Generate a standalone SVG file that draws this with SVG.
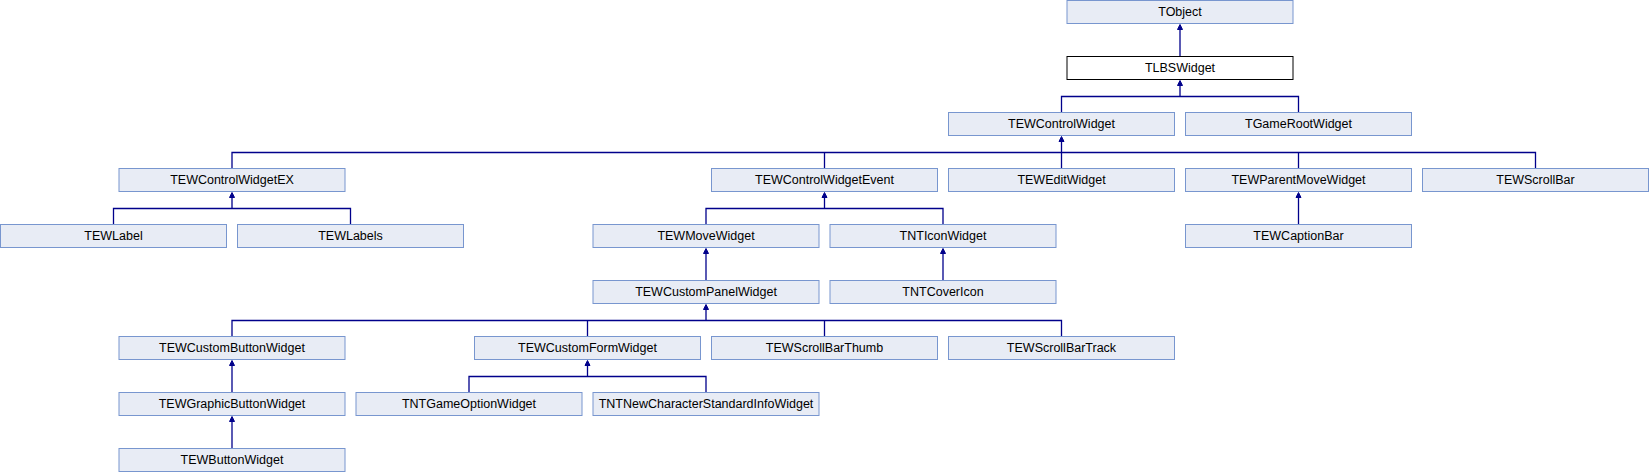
<svg xmlns="http://www.w3.org/2000/svg" width="1649" height="472" viewBox="0 0 1649 472">
<defs>
<style>
.n rect{fill:#E8ECF5;stroke:#7896CF;stroke-width:1}
.n text{font-family:"Liberation Sans",Arial,sans-serif;font-size:12.5px;fill:#000;text-anchor:middle}
.cur rect{fill:#FFFFFF;stroke:#000000}
.e path{fill:none;stroke:#00008B;stroke-width:1.3}
.e polygon{fill:#00008B;stroke:#00008B;stroke-width:1}
</style>
</defs>
<rect x="0" y="0" width="1649" height="472" fill="#FFFFFF"/>
<g id="connectors" class="e">
<path d="M1180,56.5V29"/><polygon points="1180,24.5 1177.5,29.5 1182.5,29.5"/>
<path d="M1061.5,112.5V96.5H1298.5V112.5M1180,96.5V85"/><polygon points="1180,80.5 1177.5,85.5 1182.5,85.5"/>
<path d="M232,168.5V152.5H1535.5V168.5M824.5,152.5V168.5M1061.5,168.5V141M1298.5,152.5V168.5"/><polygon points="1061.5,136.5 1059,141.5 1064,141.5"/>
<path d="M113.5,224.5V208.5H350.5V224.5M232,208.5V197"/><polygon points="232,192.5 229.5,197.5 234.5,197.5"/>
<path d="M706,224.5V208.5H943V224.5M824.5,208.5V197"/><polygon points="824.5,192.5 822,197.5 827,197.5"/>
<path d="M1298.5,224.5V197"/><polygon points="1298.5,192.5 1296,197.5 1301,197.5"/>
<path d="M706,280.5V253"/><polygon points="706,248.5 703.5,253.5 708.5,253.5"/>
<path d="M943,280.5V253"/><polygon points="943,248.5 940.5,253.5 945.5,253.5"/>
<path d="M232,336.5V320.5H1061.5V336.5M587.5,320.5V336.5M824.5,320.5V336.5M706,320.5V309"/><polygon points="706,304.5 703.5,309.5 708.5,309.5"/>
<path d="M232,392.5V365"/><polygon points="232,360.5 229.5,365.5 234.5,365.5"/>
<path d="M469,392.5V376.5H706V392.5M587.5,376.5V365"/><polygon points="587.5,360.5 585,365.5 590,365.5"/>
<path d="M232,448.5V421"/><polygon points="232,416.5 229.5,421.5 234.5,421.5"/>
</g>
<g id="TObject" class="n"><rect x="1067" y="0.5" width="226" height="23"/><text x="1180" y="16">TObject</text></g>
<g id="TLBSWidget" class="n cur"><rect x="1067" y="56.5" width="226" height="23"/><text x="1180" y="72">TLBSWidget</text></g>
<g id="TEWControlWidget" class="n"><rect x="948.5" y="112.5" width="226" height="23"/><text x="1061.5" y="128">TEWControlWidget</text></g>
<g id="TGameRootWidget" class="n"><rect x="1185.5" y="112.5" width="226" height="23"/><text x="1298.5" y="128">TGameRootWidget</text></g>
<g id="TEWControlWidgetEX" class="n"><rect x="119" y="168.5" width="226" height="23"/><text x="232" y="184">TEWControlWidgetEX</text></g>
<g id="TEWControlWidgetEvent" class="n"><rect x="711.5" y="168.5" width="226" height="23"/><text x="824.5" y="184">TEWControlWidgetEvent</text></g>
<g id="TEWEditWidget" class="n"><rect x="948.5" y="168.5" width="226" height="23"/><text x="1061.5" y="184">TEWEditWidget</text></g>
<g id="TEWParentMoveWidget" class="n"><rect x="1185.5" y="168.5" width="226" height="23"/><text x="1298.5" y="184">TEWParentMoveWidget</text></g>
<g id="TEWScrollBar" class="n"><rect x="1422.5" y="168.5" width="226" height="23"/><text x="1535.5" y="184">TEWScrollBar</text></g>
<g id="TEWLabel" class="n"><rect x="0.5" y="224.5" width="226" height="23"/><text x="113.5" y="240">TEWLabel</text></g>
<g id="TEWLabels" class="n"><rect x="237.5" y="224.5" width="226" height="23"/><text x="350.5" y="240">TEWLabels</text></g>
<g id="TEWMoveWidget" class="n"><rect x="593" y="224.5" width="226" height="23"/><text x="706" y="240">TEWMoveWidget</text></g>
<g id="TNTIconWidget" class="n"><rect x="830" y="224.5" width="226" height="23"/><text x="943" y="240">TNTIconWidget</text></g>
<g id="TEWCaptionBar" class="n"><rect x="1185.5" y="224.5" width="226" height="23"/><text x="1298.5" y="240">TEWCaptionBar</text></g>
<g id="TEWCustomPanelWidget" class="n"><rect x="593" y="280.5" width="226" height="23"/><text x="706" y="296">TEWCustomPanelWidget</text></g>
<g id="TNTCoverIcon" class="n"><rect x="830" y="280.5" width="226" height="23"/><text x="943" y="296">TNTCoverIcon</text></g>
<g id="TEWCustomButtonWidget" class="n"><rect x="119" y="336.5" width="226" height="23"/><text x="232" y="352">TEWCustomButtonWidget</text></g>
<g id="TEWCustomFormWidget" class="n"><rect x="474.5" y="336.5" width="226" height="23"/><text x="587.5" y="352">TEWCustomFormWidget</text></g>
<g id="TEWScrollBarThumb" class="n"><rect x="711.5" y="336.5" width="226" height="23"/><text x="824.5" y="352">TEWScrollBarThumb</text></g>
<g id="TEWScrollBarTrack" class="n"><rect x="948.5" y="336.5" width="226" height="23"/><text x="1061.5" y="352">TEWScrollBarTrack</text></g>
<g id="TEWGraphicButtonWidget" class="n"><rect x="119" y="392.5" width="226" height="23"/><text x="232" y="408">TEWGraphicButtonWidget</text></g>
<g id="TNTGameOptionWidget" class="n"><rect x="356" y="392.5" width="226" height="23"/><text x="469" y="408">TNTGameOptionWidget</text></g>
<g id="TNTNewCharacterStandardInfoWidget" class="n"><rect x="593" y="392.5" width="226" height="23"/><text x="706" y="408">TNTNewCharacterStandardInfoWidget</text></g>
<g id="TEWButtonWidget" class="n"><rect x="119" y="448.5" width="226" height="23"/><text x="232" y="464">TEWButtonWidget</text></g>
</svg>
